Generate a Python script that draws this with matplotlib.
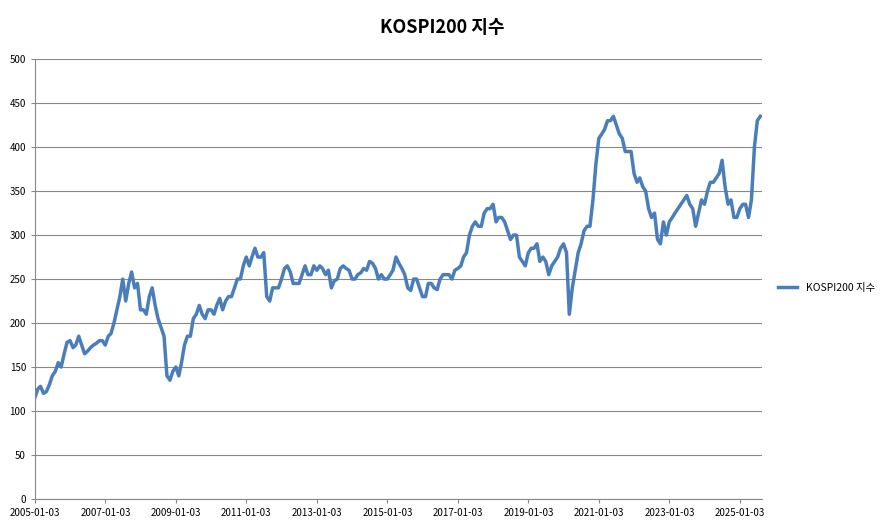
import matplotlib
matplotlib.use("Agg")
import matplotlib.pyplot as plt
import pandas as pd

plt.rcParams["font.family"] = ["Noto Sans CJK JP", "Noto Sans CJK KR", "Noto Sans CJK SC", "DejaVu Sans"]

series_name = "KOSPI200 지수"
start_month = "2005-01-01"
values = [
    115,125,128,120,122,130,140,145,155,150,165,178,
    180,172,175,185,175,165,168,172,175,177,180,180,
    175,185,188,200,215,230,250,225,245,258,240,245,
    215,215,210,230,240,220,205,195,185,140,135,145,
    150,140,155,175,185,185,205,210,220,210,205,215,
    215,210,220,228,215,225,230,230,240,250,250,265,
    275,265,275,285,275,275,280,230,225,240,240,240,
    250,262,265,258,245,245,245,255,265,255,255,265,
    260,265,262,255,260,240,248,250,262,265,262,260,
    250,250,255,257,262,260,270,268,262,250,255,250,
    250,255,260,275,268,262,255,240,237,250,250,240,
    230,230,245,245,240,238,250,255,255,255,250,260,
    262,265,275,280,300,310,315,310,310,325,330,330,
    335,315,320,320,315,305,295,300,300,275,270,265,
    280,285,285,290,270,275,270,255,265,270,275,285,
    290,280,210,240,260,280,290,305,310,310,340,380,
    410,415,420,430,430,435,425,415,410,395,395,395,
    370,360,365,355,350,330,320,325,295,290,315,300,
    315,320,325,330,335,340,345,335,330,310,325,340,
    335,350,360,360,365,370,385,355,335,340,320,320,
    330,335,335,320,340,400,430,435,
]
tick_labels = [f"{y}-01-03" for y in range(2005, 2026, 2)]

dates = pd.date_range(start_month, periods=len(values), freq="MS")

fig = plt.figure(figsize=(8.84, 5.28), dpi=100)
ax = fig.add_axes([0.0396, 0.055, 0.822, 0.833])
ax.plot(dates, values, color="#4a7ebb", lw=2.5, label=series_name)
ax.set_ylim(0, 500)
ax.set_yticks(range(0, 501, 50))
ax.set_xlim(pd.Timestamp("2005-01-03"), pd.Timestamp("2025-08-15"))
ticks = [pd.Timestamp(t) for t in tick_labels]
ax.set_xticks(ticks)
ax.set_xticklabels(tick_labels)
ax.tick_params(labelsize=7, length=3, color="#888888")
ax.grid(axis="y", color="#888888", lw=0.8)
ax.set_axisbelow(True)
for s in ["top", "right"]:
    ax.spines[s].set_visible(False)
for s in ["left", "bottom"]:
    ax.spines[s].set_color("#888888")
fig.suptitle(series_name, y=0.965, fontsize=13, fontweight="bold")
fig.legend(loc="center left", bbox_to_anchor=(0.87, 0.455), frameon=False, fontsize=7.5, handlelength=1.8)
fig.savefig("out.png", dpi=100)
